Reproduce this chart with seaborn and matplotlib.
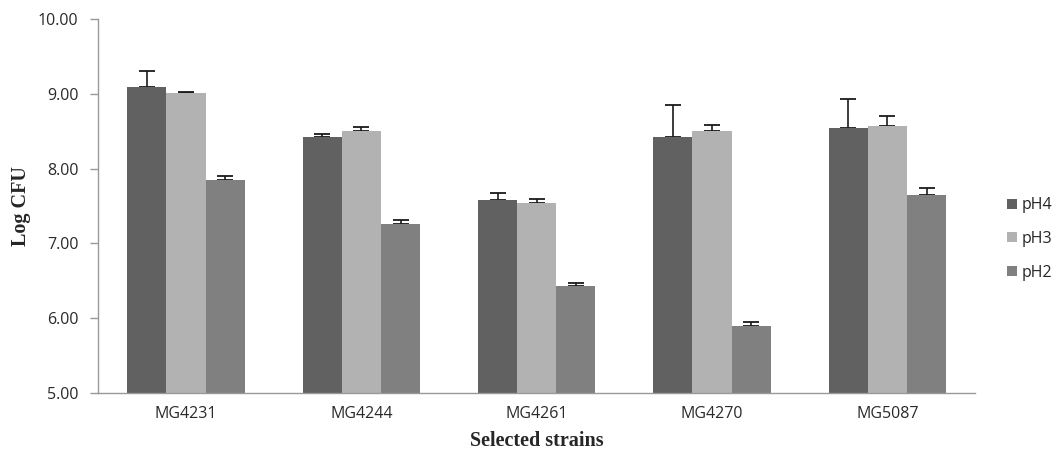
import numpy as np
import pandas as pd
import matplotlib
matplotlib.use("Agg")
import matplotlib.pyplot as plt
import seaborn as sns
from matplotlib.ticker import FixedLocator

strains = ["MG4231", "MG4244", "MG4261", "MG4270", "MG5087"]
groups = ["pH4", "pH3", "pH2"]
ph4 = [9.09, 8.43, 7.58, 8.42, 8.55]
ph3 = [9.01, 8.51, 7.54, 8.51, 8.57]
ph2 = [7.85, 7.26, 6.43, 5.90, 7.65]
ph4_err = [0.22, 0.04, 0.09, 0.43, 0.38]
ph3_err = [0.01, 0.05, 0.05, 0.07, 0.13]
ph2_err = [0.05, 0.05, 0.04, 0.05, 0.09]
colors = ["#616161", "#b2b2b2", "#808080"]
yticks = [5.0, 6.0, 7.0, 8.0, 9.0, 10.0]

sns.set_theme(style="white")
plt.rcParams["font.family"] = ["Open Sans", "DejaVu Sans"]

df = pd.DataFrame({
    "strain": strains * 3,
    "group": [g for g in groups for _ in strains],
    "value": ph4 + ph3 + ph2,
    "err": ph4_err + ph3_err + ph2_err,
})

fig = plt.figure(figsize=(10.58, 4.57), dpi=100)
ax = fig.add_axes([0.0930, 0.140, 0.8286, 0.818])

sns.barplot(data=df, x="strain", y="value", hue="group", order=strains,
            hue_order=groups, palette=colors, width=0.67, gap=0,
            errorbar=None, saturation=1, ax=ax, linewidth=0, zorder=2)

# error bars (upper only) placed on the seaborn bars, stems start under the bars
for cont, g in zip(ax.containers, groups):
    sub = df[df["group"] == g].set_index("strain").loc[strains]
    xs = [p.get_x() + p.get_width() / 2 for p in cont.patches]
    ax.errorbar(xs, sub["value"].values,
                yerr=[np.zeros(len(strains)), sub["err"].values],
                fmt="none", ecolor="#1a1a1a", elinewidth=1.2, capsize=6,
                capthick=1.3, zorder=1)

ax.set_ylim(5, 10)
ax.set_xlim(-0.5, 4.5)
ax.set_yticks(yticks)
ax.set_yticklabels([f"{v:.2f}" for v in yticks], fontsize=11.5, color="#2a2a2a")
ax.set_xticks(range(len(strains)))
ax.set_xticklabels(strains, fontsize=11.5, color="#2a2a2a")
ax.tick_params(axis="x", which="major", length=0, pad=9)
ax.xaxis.set_minor_locator(FixedLocator([0.5, 1.5, 2.5, 3.5, 4.5]))
ax.tick_params(axis="x", which="minor", direction="in", length=5, color="#999999", width=1)
ax.tick_params(axis="y", which="major", direction="out", length=5.5, color="#999999",
               width=1, left=True, pad=9)

for s in ["top", "right"]:
    ax.spines[s].set_visible(False)
for s in ["left", "bottom"]:
    ax.spines[s].set_color("#999999")
    ax.spines[s].set_linewidth(1)
    ax.spines[s].set_zorder(3)

ax.set_xlabel("Selected strains", fontsize=14.5, fontweight="bold",
              family=["Liberation Serif", "DejaVu Serif"], labelpad=7)
ax.set_ylabel("Log CFU", fontsize=14.5, fontweight="bold",
              family=["Liberation Serif", "DejaVu Serif"], labelpad=5)

leg = ax.legend(loc="center left", bbox_to_anchor=(0.946, 0.477),
                bbox_transform=fig.transFigure, frameon=False,
                fontsize=11.5, handlelength=0.6, handleheight=0.6,
                handletextpad=0.3, labelspacing=1.1, borderaxespad=0)

fig.savefig("out.png", dpi=100)
